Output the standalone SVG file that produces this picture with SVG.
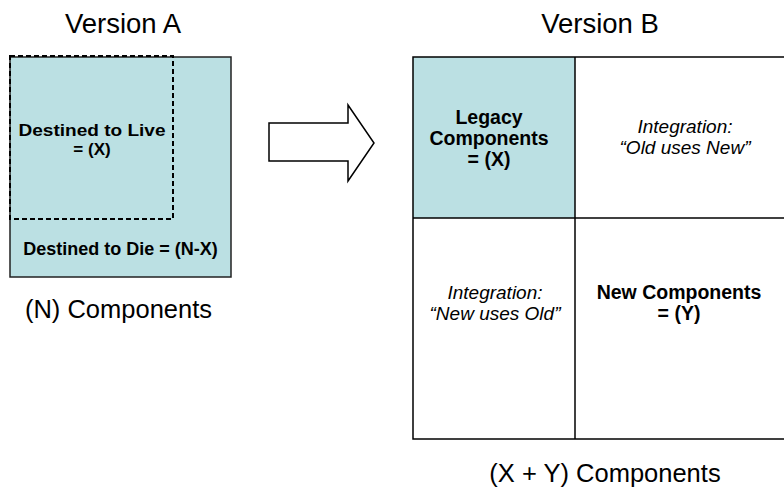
<svg xmlns="http://www.w3.org/2000/svg" width="784" height="488" viewBox="0 0 784 488">
  <style>
    text { font-family: "Liberation Sans", Arial, sans-serif; fill: #000; text-anchor: middle; }
    .title { font-size: 27.5px; }
    .caption { font-size: 25.5px; }
    .bold { font-size: 18px; font-weight: bold; }
    .bold2 { font-size: 17px; font-weight: bold; }
    .cellb { font-size: 19.5px; font-weight: bold; }
    .celli { font-size: 19px; font-style: italic; }
    .fill { fill: #BBE0E3; }
    .edge { fill: none; stroke: #000; stroke-width: 1.5; }
  </style>
  <rect width="784" height="488" fill="#fff"/>

  <!-- Version A -->
  <g id="version-a">
    <text class="title" x="123" y="33">Version A</text>
    <rect x="10" y="57" width="221" height="220" class="fill" stroke="#222" stroke-width="1.5"/>
    <rect x="10" y="56" width="163" height="163" fill="none" stroke="#000" stroke-width="2" stroke-dasharray="5,3"/>
    <text class="bold2" x="92" y="136" textLength="147" lengthAdjust="spacingAndGlyphs">Destined to Live</text>
    <text class="bold2" x="92" y="155">= (X)</text>
    <text class="bold" x="120.5" y="255">Destined to Die = (N-X)</text>
    <text class="caption" x="118.5" y="318">(N) Components</text>
  </g>

  <!-- transition arrow -->
  <g id="connectors">
    <polygon class="edge" points="269,123 348,123 348,105 374,143 348,181 348,161 269,161" fill="#fff"/>
  </g>

  <!-- Version B -->
  <g id="version-b">
    <text class="title" x="600" y="33">Version B</text>
    <rect x="413" y="57" width="162" height="161" class="fill"/>
    <rect x="413" y="57" width="382" height="382" class="edge"/>
    <line x1="575" y1="57" x2="575" y2="439" class="edge"/>
    <line x1="413" y1="218" x2="795" y2="218" class="edge"/>
    <text class="caption" x="605" y="482">(X + Y) Components</text>
  </g>

  <g id="legacy">
    <text class="cellb" x="489" y="124">Legacy</text>
    <text class="cellb" x="489" y="145">Components</text>
    <text class="cellb" x="489" y="166">= (X)</text>
  </g>
  <g id="old-uses-new">
    <text class="celli" x="685" y="133">Integration:</text>
    <text class="celli" x="685" y="154">“Old uses New”</text>
  </g>
  <g id="new-uses-old">
    <text class="celli" x="495" y="299">Integration:</text>
    <text class="celli" x="495" y="320">“New uses Old”</text>
  </g>
  <g id="new-components">
    <text class="cellb" x="679" y="299">New Components</text>
    <text class="cellb" x="679" y="320">= (Y)</text>
  </g>
</svg>
